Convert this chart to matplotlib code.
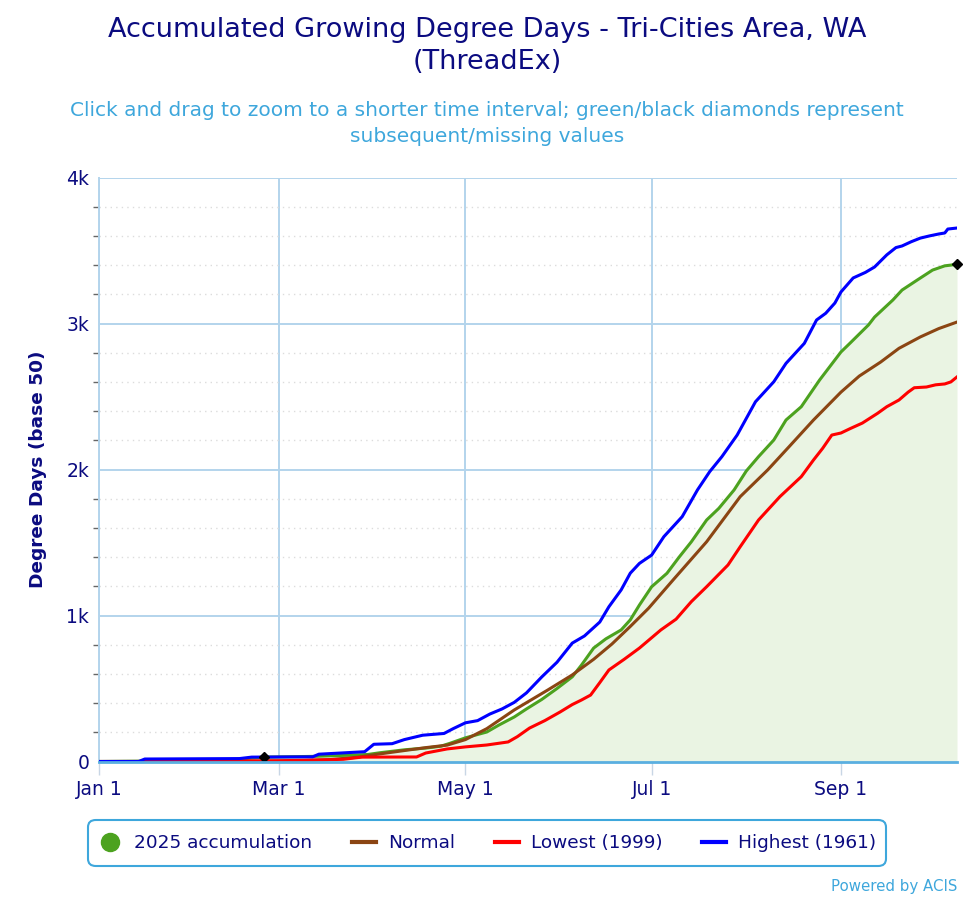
import matplotlib
matplotlib.use("Agg")
import matplotlib.pyplot as plt
from matplotlib.patches import FancyBboxPatch
from matplotlib.lines import Line2D
import numpy as np

# ---- data (day offsets from Jan 1, values in GDD base 50) ----
tick_days = [0, 59, 120, 181, 243]
tick_labels = ["Jan 1", "Mar 1", "May 1", "Jul 1", "Sep 1"]
y_ticks = [0, 1000, 2000, 3000, 4000]
y_tick_labels = ["0", "1k", "2k", "3k", "4k"]

acc2025_days = [0, 30, 45, 54, 70, 80, 88, 92, 100, 107, 112, 115, 120, 124, 127, 131, 136, 140,
                145, 150, 155, 158, 162, 166, 171, 174, 177, 181, 186, 190, 194, 199, 203, 208,
                212, 216, 221, 225, 230, 236, 243, 246, 252, 254, 260, 263, 268, 273, 277, 279, 281]
acc2025_vals = [0, 5, 15, 30, 35, 42, 48, 60, 80, 92, 105, 125, 162, 185, 202, 250, 305, 360,
                425, 500, 580, 660, 777, 840, 901, 970, 1072, 1197, 1289, 1400, 1505, 1654, 1734, 1860,
                1990, 2088, 2202, 2339, 2430, 2613, 2805, 2866, 2990, 3044, 3161, 3229, 3298, 3366, 3395, 3400, 3407]

normal_days = [0, 50, 65, 75, 85, 92, 100, 107, 114, 120, 127, 136, 147, 155, 162, 168, 174, 180,
               188, 199, 210, 219, 226, 234, 243, 249, 256, 262, 269, 275, 281]
normal_vals = [0, 1, 5, 12, 30, 52, 75, 95, 112, 150, 225, 353, 490, 593, 700, 805, 925, 1050,
               1243, 1505, 1814, 1997, 2156, 2339, 2530, 2640, 2736, 2830, 2908, 2965, 3010]

lowest_days = [0, 20, 22, 59, 70, 80, 86, 104, 107, 114, 120, 127, 134, 137, 141, 146, 151, 155,
               158, 161, 164, 167, 172, 177, 184, 189, 194, 199, 206, 210, 216, 223, 230, 234,
               237, 240, 243, 246, 250, 255, 258, 262, 265, 267, 271, 274, 277, 279, 281]
lowest_vals = [0, 0, 2, 5, 10, 15, 30, 31, 58, 86, 100, 113, 134, 170, 229, 280, 339, 390,
               421, 455, 540, 627, 700, 777, 901, 975, 1095, 1197, 1346, 1471, 1654, 1814, 1951, 2065,
               2145, 2236, 2250, 2280, 2318, 2385, 2430, 2476, 2530, 2560, 2565, 2580, 2586, 2600, 2634]

highest_days = [0, 13, 15, 46, 50, 70, 72, 87, 90, 96, 100, 106, 113, 116, 120, 124, 128, 132, 136,
                140, 145, 150, 155, 159, 164, 167, 171, 174, 177, 181, 185, 191, 196, 200, 204, 209,
                215, 221, 225, 231, 235, 238, 241, 243, 247, 251, 254, 258, 261, 263, 266, 269, 272,
                275, 277, 278, 281]
highest_vals = [0, 0, 17, 20, 30, 32, 50, 67, 118, 122, 150, 180, 192, 225, 265, 280, 325, 360, 405,
                470, 579, 680, 811, 860, 955, 1060, 1175, 1290, 1357, 1414, 1540, 1677, 1860, 1985, 2088, 2236,
                2464, 2601, 2727, 2864, 3024, 3070, 3140, 3216, 3312, 3350, 3387, 3470, 3520, 3531, 3560, 3585, 3600,
                3613, 3620, 3647, 3654]

missing_days = [54, 281]
missing_vals = [30, 3407]

# ---- style ----
NAVY = "#0b0b80"
LIGHTBLUE = "#3ea7dc"
GRID = "#b3d4ec"
C_GREEN = "#4ca21f"
C_BROWN = "#8b4513"
C_RED = "#ff0000"
C_BLUE = "#0000ff"

plt.rcParams['font.family'] = ['DejaVu Sans']

fig = plt.figure(figsize=(9.74, 8.99), dpi=100)
ax = fig.add_axes([99/974, 1-761.5/899, (957-99)/974, (761.5-177.5)/899])

ax.fill_between(acc2025_days, 0, acc2025_vals, color="#eaf4e3", zorder=1, linewidth=0)
ax.plot(acc2025_days, acc2025_vals, color=C_GREEN, lw=2.2, zorder=4, solid_joinstyle='round')
ax.plot(normal_days, normal_vals, color=C_BROWN, lw=2.2, zorder=5, solid_joinstyle='round')
ax.plot(lowest_days, lowest_vals, color=C_RED, lw=2.2, zorder=6, solid_joinstyle='round')
ax.plot(highest_days, highest_vals, color=C_BLUE, lw=2.2, zorder=7, solid_joinstyle='round')
ax.plot(missing_days, missing_vals, linestyle='none', marker='D', color='black', markersize=5.5,
        zorder=8, clip_on=False)

ax.set_xlim(0, 281)
ax.set_ylim(0, 4000)

ax.set_xticks(tick_days)
ax.set_xticklabels(tick_labels)
ax.set_yticks(y_ticks)
ax.set_yticklabels(y_tick_labels)
ax.set_yticks(np.arange(0, 4001, 200), minor=True)

ax.grid(True, which='major', color=GRID, lw=1.4, zorder=0)
ax.grid(True, which='minor', axis='y', color="#dcdcdc", lw=1.0, linestyle=(0, (1, 3)), zorder=0)
ax.set_axisbelow(True)

for s in ['top', 'right']:
    ax.spines[s].set_visible(False)
ax.spines['left'].set_color(GRID)
ax.spines['left'].set_linewidth(1.4)
ax.spines['bottom'].set_color("#5aafe0")
ax.spines['bottom'].set_linewidth(2.0)
ax.spines['bottom'].set_zorder(9)

ax.tick_params(axis='x', which='major', length=9, color="#c8d6e5", width=1.0,
               labelcolor=NAVY, labelsize=13.5, pad=4)
ax.tick_params(axis='y', which='major', length=0, labelcolor=NAVY, labelsize=13.5, pad=7)
ax.tick_params(axis='y', which='minor', length=4, color="#666666", width=1.0)

ax.set_ylabel("Degree Days (base 50)", color=NAVY, fontsize=13.3, fontweight='bold', labelpad=14)

fig.text(0.5, 1-30/899, "Accumulated Growing Degree Days - Tri-Cities Area, WA",
         ha='center', va='center', color=NAVY, fontsize=19.5)
fig.text(0.5, 1-62/899, "(ThreadEx)", ha='center', va='center', color=NAVY, fontsize=19.5)
fig.text(0.5, 1-111/899, "Click and drag to zoom to a shorter time interval; green/black diamonds represent",
         ha='center', va='center', color=LIGHTBLUE, fontsize=14.5)
fig.text(0.5, 1-137/899, "subsequent/missing values", ha='center', va='center', color=LIGHTBLUE, fontsize=14.5)
fig.text(957/974, 1-886/899, "Powered by ACIS", ha='right', va='center', color=LIGHTBLUE, fontsize=10.8)

# legend box
box = FancyBboxPatch((88/974, 1-866/899), (886-88)/974, 46/899,
                     boxstyle="round,pad=0,rounding_size=0.008", transform=fig.transFigure,
                     facecolor='white', edgecolor=LIGHTBLUE, linewidth=1.5)
fig.patches.append(box)
handles = [
    Line2D([], [], linestyle='none', marker='o', markersize=13, color=C_GREEN),
    Line2D([], [], color=C_BROWN, lw=3),
    Line2D([], [], color=C_RED, lw=3),
    Line2D([], [], color=C_BLUE, lw=3),
]
labels = ["2025 accumulation", "Normal", "Lowest (1999)", "Highest (1961)"]
leg = fig.legend(handles, labels, loc='center', bbox_to_anchor=(487/974, 1-843/899), ncol=4,
                 frameon=False, fontsize=13.3, handlelength=1.3, handletextpad=0.65, columnspacing=2.15)
for t in leg.get_texts():
    t.set_color(NAVY)

fig.savefig("out.png", dpi=100)
